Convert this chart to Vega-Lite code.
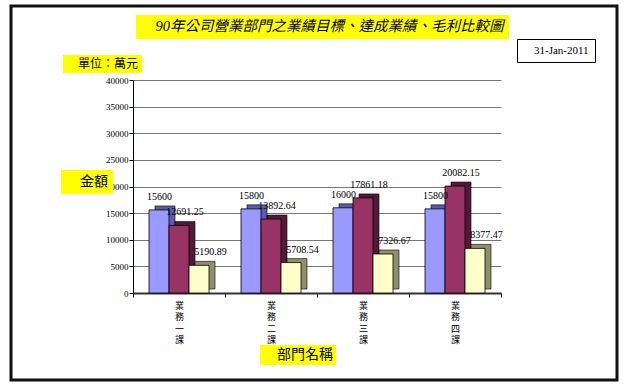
{
  "$schema": "https://vega.github.io/schema/vega-lite/v6.json",
  "width": 606,
  "height": 374,
  "autosize": {"type": "none"},
  "padding": {"left": 11, "top": 6, "right": 8, "bottom": 6},
  "background": "white",
  "config": {
    "view": {"stroke": "#111", "strokeWidth": 3, "fill": "white"},
    "font": "Liberation Serif, Noto Sans CJK TC"
  },
  "data": {
    "values": [
      {"部門": "業務一課", "項目": "業績目標", "金額": 15600},
      {"部門": "業務一課", "項目": "達成業績", "金額": 12691.25},
      {"部門": "業務一課", "項目": "毛利", "金額": 5190.89},
      {"部門": "業務二課", "項目": "業績目標", "金額": 15800},
      {"部門": "業務二課", "項目": "達成業績", "金額": 13892.64},
      {"部門": "業務二課", "項目": "毛利", "金額": 5708.54},
      {"部門": "業務三課", "項目": "業績目標", "金額": 16000},
      {"部門": "業務三課", "項目": "達成業績", "金額": 17861.18},
      {"部門": "業務三課", "項目": "毛利", "金額": 7326.67},
      {"部門": "業務四課", "項目": "業績目標", "金額": 15800},
      {"部門": "業務四課", "項目": "達成業績", "金額": 20082.15},
      {"部門": "業務四課", "項目": "毛利", "金額": 8377.47}
    ]
  },
  "encoding": {
    "x": {
      "field": "部門",
      "type": "nominal",
      "sort": ["業務一課", "業務二課", "業務三課", "業務四課"],
      "scale": {"range": [122, 490], "paddingInner": 0, "paddingOuter": 0},
      "axis": {
        "title": null,
        "offset": -87,
        "labelExpr": "split(datum.label, '')",
        "labelAngle": 0,
        "labelFontSize": 9,
        "labelLineHeight": 11.5,
        "labelFont": "Noto Sans CJK TC",
        "labelColor": "#000",
        "labelBaseline": "top",
        "labelPadding": 4,
        "tickBand": "extent",
        "domainColor": "#333",
        "domainWidth": 2,
        "tickColor": "#000",
        "tickSize": 4
      }
    },
    "xOffset": {
      "field": "項目",
      "type": "nominal",
      "sort": ["業績目標", "達成業績", "毛利"],
      "scale": {"paddingInner": 0, "paddingOuter": 0.8}
    },
    "y": {
      "field": "金額",
      "type": "quantitative",
      "scale": {"domain": [0, 40000], "range": [287, 74], "nice": false},
      "axis": {
        "title": null,
        "values": [0, 5000, 10000, 15000, 20000, 25000, 30000, 35000, 40000],
        "format": "d",
        "offset": -122,
        "grid": true,
        "gridColor": "#777",
        "gridWidth": 1,
        "domainColor": "#000",
        "tickColor": "#000",
        "tickSize": 4,
        "labelFontSize": 9,
        "labelFont": "Liberation Serif",
        "labelColor": "#000",
        "labelPadding": 1
      }
    }
  },
  "layer": [
    {
      "mark": {"type": "bar", "stroke": "#000", "strokeWidth": 0.6, "yOffset": -4},
      "encoding": {
        "xOffset": {
          "field": "項目",
          "type": "nominal",
          "sort": ["業績目標", "達成業績", "毛利"],
          "scale": {"paddingInner": 0, "paddingOuter": 0.8, "range": [6, 98]}
        },
        "fill": {
          "field": "項目",
          "type": "nominal",
          "scale": {"domain": ["業績目標", "達成業績", "毛利"], "range": ["#5C5CA8", "#521A38", "#8F8F6B"]},
          "legend": null
        }
      }
    },
    {
      "mark": {"type": "bar", "stroke": "#000", "strokeWidth": 0.8},
      "encoding": {
        "color": {
          "field": "項目",
          "type": "nominal",
          "sort": ["業績目標", "達成業績", "毛利"],
          "scale": {"domain": ["業績目標", "達成業績", "毛利"], "range": ["#9999FF", "#993366", "#FFFFCC"]},
          "legend": {
            "orient": "none",
            "legendX": 529,
            "legendY": 292,
            "title": null,
            "padding": 3,
            "rowPadding": 5,
            "symbolType": "square",
            "symbolSize": 64,
            "symbolStrokeColor": "#000",
            "symbolStrokeWidth": 1,
            "labelFontSize": 9.5,
            "labelFont": "Noto Sans CJK TC",
            "labelColor": "#000",
            "labelOffset": 2,
            "strokeColor": "#000",
            "fillColor": "#fff"
          }
        }
      }
    },
    {
      "mark": {"type": "text", "baseline": "bottom", "dy": -8, "dx": 6, "fontSize": 10, "font": "Liberation Serif", "color": "#000"},
      "encoding": {"text": {"field": "金額", "type": "quantitative"}}
    },
    {
      "mark": {"type": "point", "opacity": 0},
      "encoding": {
        "shape": {
          "field": "部門", "type": "nominal",
          "legend": {
            "orient": "none", "legendX": 125, "legendY": 9, "title": null,
            "values": ["業務一課"],
            "labelExpr": "'90年公司營業部門之業績目標、達成業績、毛利比較圖'",
            "symbolSize": 0, "symbolOpacity": 0, "labelOffset": 0,
            "fillColor": "#FFFF00", "padding": 5,
            "labelFontSize": 14.5, "labelFontStyle": "italic", "labelLimit": 800,
            "labelColor": "#000", "labelFont": "Liberation Serif, Noto Sans CJK TC"
          }
        }
      }
    },
    {
      "mark": {"type": "point", "opacity": 0},
      "encoding": {
        "shape": {
          "field": "部門", "type": "nominal",
          "legend": {
            "orient": "none", "legendX": 52, "legendY": 49, "title": null,
            "values": ["業務一課"],
            "labelExpr": "'\u2002單位：萬元\u2002'",
            "symbolSize": 0, "symbolOpacity": 0, "labelOffset": 0,
            "fillColor": "#FFFF00", "padding": 3,
            "labelFontSize": 12, "labelLimit": 800,
            "labelColor": "#000", "labelFont": "Noto Sans CJK TC"
          }
        }
      }
    },
    {
      "mark": {"type": "point", "opacity": 0},
      "encoding": {
        "shape": {
          "field": "部門", "type": "nominal",
          "legend": {
            "orient": "none", "legendX": 50, "legendY": 164, "title": null,
            "values": ["業務一課"],
            "labelExpr": "'\u2002金額'",
            "symbolSize": 0, "symbolOpacity": 0, "labelOffset": 0,
            "fillColor": "#FFFF00", "padding": 5,
            "labelFontSize": 14, "labelLimit": 800,
            "labelColor": "#000", "labelFont": "Noto Sans CJK TC"
          }
        }
      }
    },
    {
      "mark": {"type": "point", "opacity": 0},
      "encoding": {
        "shape": {
          "field": "部門", "type": "nominal",
          "legend": {
            "orient": "none", "legendX": 249, "legendY": 339, "title": null,
            "values": ["業務一課"],
            "labelExpr": "'\u2003\u2003部門名稱\u2003\u2003'",
            "symbolSize": 0, "symbolOpacity": 0, "labelOffset": 0,
            "fillColor": "#FFFF00", "padding": 3,
            "labelFontSize": 14, "labelLimit": 800,
            "labelColor": "#000", "labelFont": "Noto Sans CJK TC"
          }
        }
      }
    },
    {
      "mark": {"type": "point", "opacity": 0},
      "encoding": {
        "shape": {
          "field": "部門", "type": "nominal",
          "legend": {
            "orient": "none", "legendX": 506, "legendY": 33, "title": null,
            "values": ["業務一課"],
            "labelExpr": "'\u200231-Jan-2011\u2002'",
            "symbolSize": 0, "symbolOpacity": 0, "labelOffset": 0,
            "fillColor": "#FFFFFF", "strokeColor": "#000", "padding": 6,
            "labelFontSize": 11, "labelLimit": 800,
            "labelColor": "#000", "labelFont": "Liberation Serif"
          }
        }
      }
    }
  ],
  "resolve": {"scale": {"shape": "independent", "xOffset": "independent"}, "legend": {"shape": "independent"}}
}
